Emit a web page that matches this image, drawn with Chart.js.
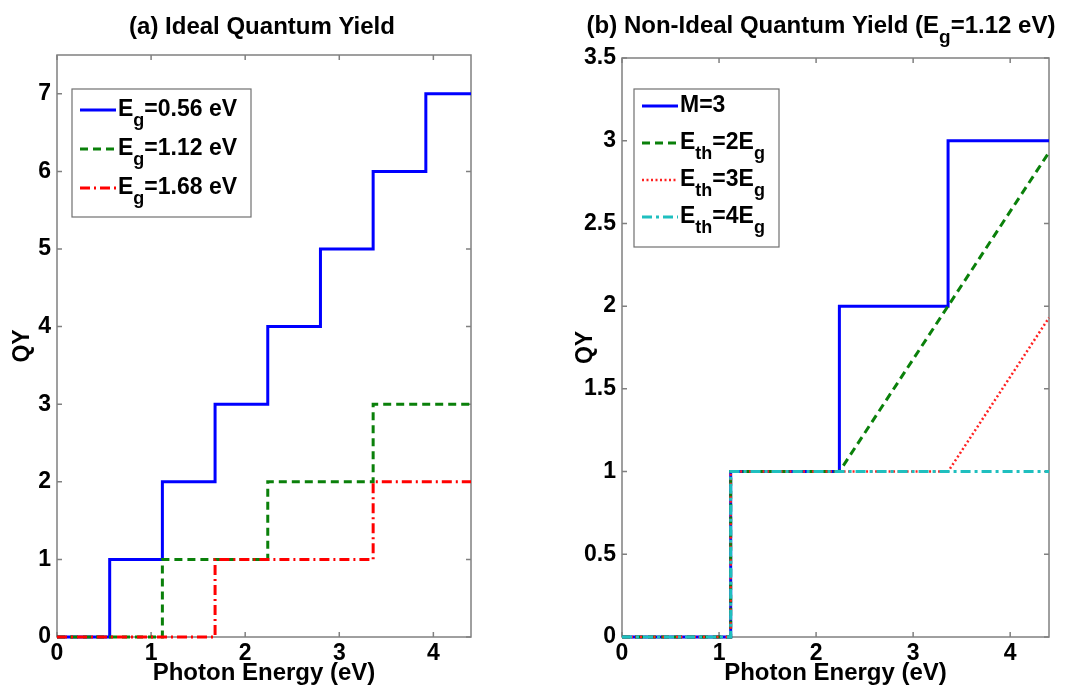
<!DOCTYPE html>
<html>
<head>
<meta charset="utf-8">
<script src="https://cdn.jsdelivr.net/npm/chart.js@4.4.0/dist/chart.umd.min.js"></script>
<style>
html, body { margin: 0; padding: 0; background: #fff; }
#wrapA { position: absolute; left: 0; top: 0; width: 540px; height: 694px; }
#wrapB { position: absolute; left: 540px; top: 0; width: 544px; height: 694px; }
</style>
</head>
<body>
<div id="wrapA"><canvas id="chartA"></canvas></div>
<div id="wrapB"><canvas id="chartB"></canvas></div>
<script>
// ============================
// DATA (a) ideal quantum yield
// ============================
const energyEg056 = [0, 0.56, 0.56, 1.12, 1.12, 1.68, 1.68, 2.24, 2.24, 2.80, 2.80, 3.36, 3.36, 3.92, 3.92, 4.4];
const qyEg056     = [0, 0,    1,    1,    2,    2,    3,    3,    4,    4,    5,    5,    6,    6,    7,    7];
const energyEg112 = [0, 1.12, 1.12, 2.24, 2.24, 3.36, 3.36, 4.4];
const qyEg112     = [0, 0,    1,    1,    2,    2,    3,    3];
const energyEg168 = [0, 1.68, 1.68, 3.36, 3.36, 4.4];
const qyEg168     = [0, 0,    1,    1,    2,    2];

// ============================
// DATA (b) non-ideal, Eg = 1.12 eV
// ============================
const energyM3  = [0, 1.12, 1.12, 2.24, 2.24, 3.36, 3.36, 4.4];
const qyM3      = [0, 0,    1,    1,    2,    2,    3,    3];
const energyTh2 = [0, 1.12, 1.12, 2.24, 4.4];
const qyTh2     = [0, 0,    1,    1,    2.93];
const energyTh3 = [0, 1.12, 1.12, 3.36, 4.4];
const qyTh3     = [0, 0,    1,    1,    1.93];
const energyTh4 = [0, 1.12, 1.12, 4.4];
const qyTh4     = [0, 0,    1,    1];

const xTicksMax = 4.4;
const yMaxA = 7.5;
const yMaxB = 3.5;

// text pieces, second item = subscript
const titleA = [['(a) Ideal Quantum Yield']];
const titleB = [['(b) Non-Ideal Quantum Yield (E'], ['g', 1], ['=1.12 eV)']];
const legendA = [
    [['E'], ['g', 1], ['=0.56 eV']],
    [['E'], ['g', 1], ['=1.12 eV']],
    [['E'], ['g', 1], ['=1.68 eV']]
];
const legendB = [
    [['M=3']],
    [['E'], ['th', 1], ['=2E'], ['g', 1]],
    [['E'], ['th', 1], ['=3E'], ['g', 1]],
    [['E'], ['th', 1], ['=4E'], ['g', 1]]
];

const FONT = '"Liberation Sans", Arial, Helvetica, sans-serif';

function pts(xs, ys) {
    return xs.map((x, i) => ({ x: x, y: ys[i] }));
}

function drawRich(ctx, parts, x, y, size, align) {
    const sub = Math.round(size * 0.78);
    let w = 0;
    parts.forEach(p => {
        ctx.font = 'bold ' + (p[1] ? sub : size) + 'px ' + FONT;
        w += ctx.measureText(p[0]).width;
    });
    let cx = align === 'center' ? x - w / 2 : x;
    ctx.textAlign = 'left';
    ctx.textBaseline = 'middle';
    ctx.fillStyle = '#000';
    parts.forEach(p => {
        ctx.font = 'bold ' + (p[1] ? sub : size) + 'px ' + FONT;
        ctx.fillText(p[0], cx, p[1] ? y + size * 0.5 : y);
        cx += ctx.measureText(p[0]).width;
    });
}

// box, inward ticks, title and legend (MATLAB look)
const panelPlugin = {
    id: 'panel',
    beforeDatasetsDraw(chart, args, opts) {
        const { ctx, chartArea: a, scales } = chart;
        ctx.save();
        ctx.strokeStyle = '#808080';
        ctx.lineWidth = 1.5;
        ctx.strokeRect(a.left, a.top, a.right - a.left, a.bottom - a.top);
        ctx.beginPath();
        scales.x.ticks.forEach(t => {
            const px = scales.x.getPixelForValue(t.value);
            ctx.moveTo(px, a.bottom); ctx.lineTo(px, a.bottom - 5);
            ctx.moveTo(px, a.top); ctx.lineTo(px, a.top + 5);
        });
        scales.y.ticks.forEach(t => {
            const py = scales.y.getPixelForValue(t.value);
            ctx.moveTo(a.left, py); ctx.lineTo(a.left + 5, py);
            ctx.moveTo(a.right, py); ctx.lineTo(a.right - 5, py);
        });
        ctx.stroke();
        ctx.restore();
    },
    afterDraw(chart, args, opts) {
        const ctx = chart.ctx;
        ctx.save();
        drawRich(ctx, opts.title, opts.titleX, opts.titleY, 24, 'center');

        const L = opts.legend;
        ctx.fillStyle = '#fff';
        ctx.fillRect(L.x, L.y, L.w, L.h);
        ctx.strokeStyle = '#707070';
        ctx.lineWidth = 1.2;
        ctx.strokeRect(L.x, L.y, L.w, L.h);
        L.rows.forEach((parts, i) => {
            const ds = chart.data.datasets[i];
            const y = L.y + L.first + i * L.gap;
            ctx.beginPath();
            ctx.strokeStyle = ds.borderColor;
            ctx.lineWidth = ds.borderWidth;
            ctx.setLineDash(ds.borderDash || []);
            ctx.moveTo(L.x + 8, y);
            ctx.lineTo(L.x + 44, y);
            ctx.stroke();
            ctx.setLineDash([]);
            drawRich(ctx, parts, L.x + 46, y, 23, 'left');
        });
        ctx.restore();
    }
};

function makeOptions(yMax, yStep, yWidth, padTop, padRight, yTitlePad, deco) {
    return {
        responsive: true,
        maintainAspectRatio: false,
        animation: false,
        layout: { padding: { top: padTop, right: padRight, left: 0, bottom: 0 } },
        elements: { point: { radius: 0 }, line: { tension: 0 } },
        scales: {
            x: {
                type: 'linear',
                min: 0,
                max: xTicksMax,
                grid: { display: false, drawTicks: false },
                border: { display: false },
                ticks: {
                    stepSize: 1,
                    includeBounds: false,
                    padding: 3,
                    color: '#000',
                    font: { family: FONT, size: 23, weight: 'bold' }
                },
                title: {
                    display: true,
                    text: 'Photon Energy (eV)',
                    color: '#000',
                    padding: { top: 0, bottom: 6 },
                    font: { family: FONT, size: 24, weight: 'bold' }
                },
                afterFit: s => { s.height = 57; }
            },
            y: {
                type: 'linear',
                min: 0,
                max: yMax,
                grid: { display: false, drawTicks: false },
                border: { display: false },
                ticks: {
                    stepSize: yStep,
                    includeBounds: false,
                    padding: 6,
                    color: '#000',
                    font: { family: FONT, size: 23, weight: 'bold' },
                    callback: v => String(v)
                },
                title: {
                    display: true,
                    text: 'QY',
                    color: '#000',
                    padding: { top: yTitlePad, bottom: 0 },
                    font: { family: FONT, size: 23, weight: 'bold' }
                },
                afterFit: s => { s.width = yWidth; }
            }
        },
        plugins: {
            legend: { display: false },
            tooltip: { enabled: false },
            panel: deco
        }
    };
}

function line(label, data, color, dash, width, order) {
    return {
        label: label,
        data: data,
        borderColor: color,
        borderWidth: width,
        borderDash: dash,
        borderJoinStyle: 'miter',
        fill: false,
        clip: 4,
        order: order
    };
}

// ============================
// (a) IDEAL QUANTUM YIELD
// ============================
new Chart(document.getElementById('chartA'), {
    type: 'line',
    data: {
        datasets: [
            line('Eg=0.56 eV', pts(energyEg056, qyEg056), '#0000ff', [], 3, 2),
            line('Eg=1.12 eV', pts(energyEg112, qyEg112), '#0a800a', [8, 5], 3, 1),
            line('Eg=1.68 eV', pts(energyEg168, qyEg168), '#ff0000', [10, 4, 2, 4], 3, 0)
        ]
    },
    options: makeOptions(yMaxA, 1, 57, 55, 69, 9, {
        title: titleA, titleX: 262, titleY: 27,
        legend: { x: 72, y: 89, w: 179, h: 128, first: 21, gap: 39, rows: legendA }
    }),
    plugins: [panelPlugin]
});

// ============================
// (b) NON-IDEAL QUANTUM YIELD
// ============================
new Chart(document.getElementById('chartB'), {
    type: 'line',
    data: {
        datasets: [
            line('M=3', pts(energyM3, qyM3), '#0000ff', [], 3, 3),
            line('Eth=2Eg', pts(energyTh2, qyTh2), '#0a800a', [8, 5], 3, 2),
            line('Eth=3Eg', pts(energyTh3, qyTh3), '#ff2020', [2, 2.5], 2.5, 1),
            line('Eth=4Eg', pts(energyTh4, qyTh4), '#1fbfbf', [10, 4, 3, 4], 3, 0)
        ]
    },
    options: makeOptions(yMaxB, 0.5, 82, 58, 35, 32, {
        title: titleB, titleX: 281, titleY: 26,
        legend: { x: 94, y: 89, w: 145, h: 158, first: 17, gap: 37, rows: legendB }
    }),
    plugins: [panelPlugin]
});
</script>
</body>
</html>
